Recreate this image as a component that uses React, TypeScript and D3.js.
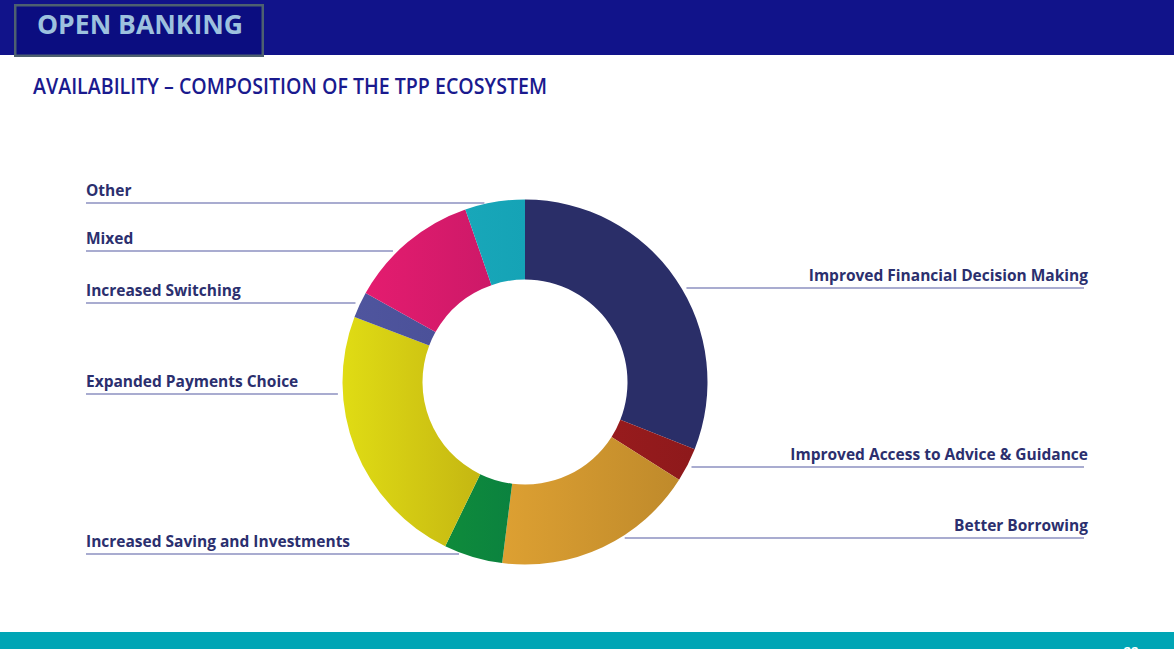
import React, { useEffect, useRef } from 'react';
import * as d3 from 'd3';

// slices, clockwise from 12 o'clock
const categories = [
  'Improved Financial Decision Making',
  'Improved Access to Advice & Guidance',
  'Better Borrowing',
  'Increased Saving and Investments',
  'Expanded Payments Choice',
  'Increased Switching',
  'Mixed',
  'Other',
];
const shares = [31, 3, 18, 5.2, 23.6, 2.3, 11.6, 5.3];

const pageTitle = 'OPEN BANKING';
const chartTitle = 'AVAILABILITY \u2013 COMPOSITION OF THE TPP ECOSYSTEM';
const pageNumber = '22';

// left -> right gradient stops per slice
const palette: [string, string][] = [
  ['#2a2e68', '#2a2e68'],
  ['#971b1d', '#8e191b'],
  ['#dda032', '#bf8a2b'],
  ['#0f8b3b', '#0b823f'],
  ['#e0dc14', '#c5b712'],
  ['#4f559e', '#4b5199'],
  ['#e41c6f', '#cd1968'],
  ['#18a7b9', '#15a3b6'],
];

const W = 1174;
const H = 649;

export default function App() {
  const svgRef = useRef<SVGSVGElement>(null);

  useEffect(() => {
    if (!svgRef.current) return;
    const svg = d3.select(svgRef.current);
    svg.selectAll('*').remove();

    const font = '"Open Sans", "Noto Sans", sans-serif';
    const labelColor = '#2b2f6e';
    const leaderColor = '#8c91c0';

    // header
    svg.append('rect').attr('x', 0).attr('y', 0).attr('width', W).attr('height', 55).attr('fill', '#11138a');
    svg
      .append('rect')
      .attr('x', 15.25)
      .attr('y', 5.25)
      .attr('width', 247.5)
      .attr('height', 50.5)
      .attr('fill', '#0b0d80')
      .attr('stroke', '#4d6070')
      .attr('stroke-width', 2.5);
    svg
      .append('text')
      .attr('x', 37)
      .attr('y', 34)
      .attr('fill', '#9dc1de')
      .attr('font-family', font)
      .attr('font-weight', 700)
      .attr('font-size', 26)
      .attr('textLength', 206)
      .attr('lengthAdjust', 'spacingAndGlyphs')
      .text(pageTitle);

    svg
      .append('text')
      .attr('x', 33)
      .attr('y', 94)
      .attr('fill', '#1a1a8e')
      .attr('font-family', font)
      .attr('font-weight', 600)
      .attr('font-size', 22)
      .attr('textLength', 514)
      .attr('lengthAdjust', 'spacingAndGlyphs')
      .text(chartTitle);

    // footer (page number runs off the bottom edge, as on the slide)
    svg.append('rect').attr('x', 0).attr('y', 632).attr('width', W).attr('height', H - 632).attr('fill', '#00a5b5');
    svg
      .append('text')
      .attr('x', 1131)
      .attr('y', 656)
      .attr('text-anchor', 'middle')
      .attr('fill', '#ffffff')
      .attr('font-family', font)
      .attr('font-weight', 700)
      .attr('font-size', 13)
      .text(pageNumber);

    // donut
    const cx = 525;
    const cy = 382;
    const outer = 182.5;
    const inner = 102.5;

    const defs = svg.append('defs');
    palette.forEach((c, i) => {
      const lg = defs.append('linearGradient').attr('id', `slice-grad-${i}`).attr('x1', 0).attr('x2', 1).attr('y1', 0).attr('y2', 0);
      lg.append('stop').attr('offset', '0%').attr('stop-color', c[0]);
      lg.append('stop').attr('offset', '100%').attr('stop-color', c[1]);
    });

    const pie = d3
      .pie<number>()
      .sort(null)
      .value((d) => d)
      .startAngle(0)
      .endAngle(2 * Math.PI);
    const arc = d3.arc<d3.PieArcDatum<number>>().innerRadius(inner).outerRadius(outer);

    const g = svg.append('g').attr('transform', `translate(${cx},${cy})`);
    g.selectAll('path')
      .data(pie(shares))
      .enter()
      .append('path')
      .attr('d', arc)
      .attr('fill', (_, i) => `url(#slice-grad-${i})`);

    // labels: which side and at what height the leader line sits
    const labelLayout: { side: 'left' | 'right'; y: number }[] = [
      { side: 'right', y: 288 },
      { side: 'right', y: 467 },
      { side: 'right', y: 538 },
      { side: 'left', y: 554 },
      { side: 'left', y: 394 },
      { side: 'left', y: 303 },
      { side: 'left', y: 251 },
      { side: 'left', y: 203 },
    ];
    const leftX = 86;
    const rightX = 1084;
    const gap = 5;

    categories.forEach((name, i) => {
      const { side, y } = labelLayout[i];
      const dy = y - cy;
      const half = Math.sqrt(Math.max(0, outer * outer - dy * dy));
      const edge = side === 'left' ? cx - half - gap : cx + half + gap;
      const x1 = side === 'left' ? leftX : edge;
      const x2 = side === 'left' ? edge : rightX;

      svg
        .append('line')
        .attr('x1', x1)
        .attr('x2', x2)
        .attr('y1', y)
        .attr('y2', y)
        .attr('stroke', leaderColor)
        .attr('stroke-width', 1.5);

      svg
        .append('text')
        .attr('x', side === 'left' ? leftX : rightX + 4)
        .attr('y', y - 7)
        .attr('text-anchor', side === 'left' ? 'start' : 'end')
        .attr('fill', labelColor)
        .attr('font-family', font)
        .attr('font-weight', 700)
        .attr('font-size', 15.5)
        .text(name);
    });
  }, []);

  return (
    <div style={{ position: 'absolute', left: 0, top: 0, width: W, height: H, overflow: 'hidden', background: '#fff' }}>
      <svg ref={svgRef} width={W} height={H} style={{ display: 'block' }} />
    </div>
  );
}
